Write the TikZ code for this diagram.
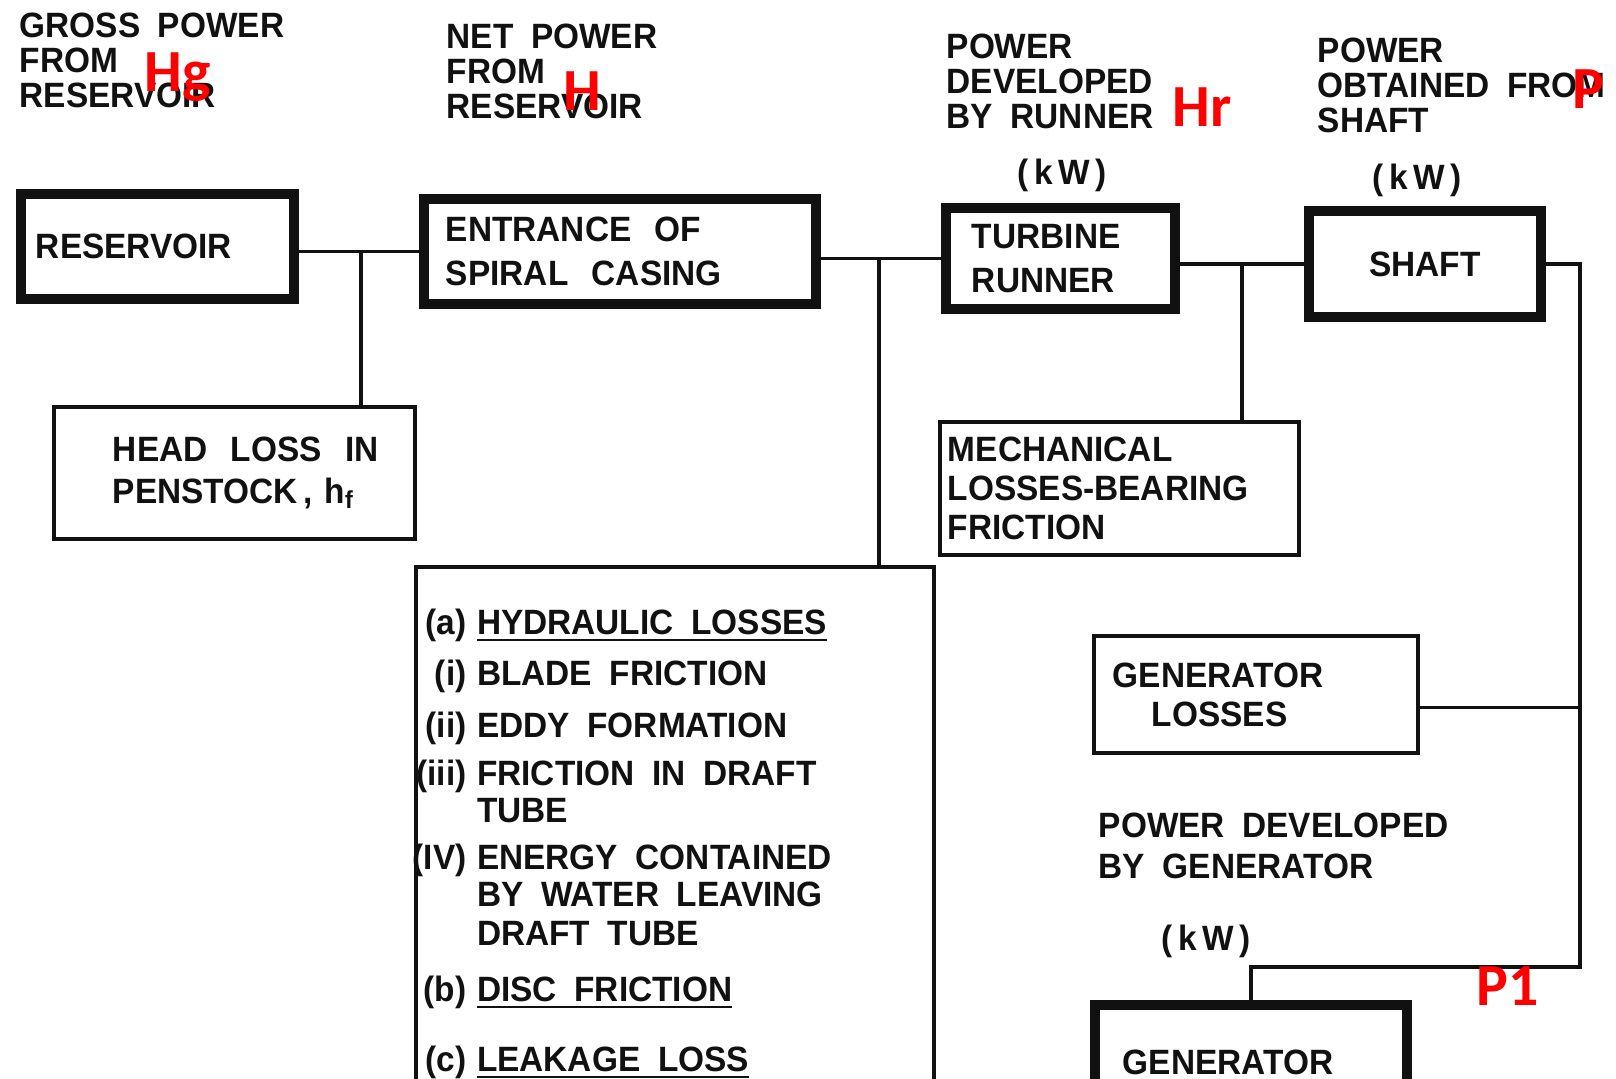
\documentclass[tikz,border=0pt]{standalone}
\usepackage{fontspec}
\setmainfont{Liberation Sans}[WordSpace=1.9, FakeStretch=0.95]
\newfontfamily\tagfont{Carlito}
\usepackage{tikz}
\usetikzlibrary{positioning, calc}
\definecolor{ink}{HTML}{111111}
\definecolor{tagred}{HTML}{FF0000}
\tikzset{
  heavy/.style ={draw=ink, line width=3pt, align=left, text=ink, inner ysep=0pt,
                 font=\bfseries\fontsize{10}{12.4}\selectfont},
  light/.style ={heavy, line width=1.1pt},
  title/.style ={anchor=north west, inner sep=0pt, align=left, text=ink,
                 font=\bfseries\fontsize{10}{10}\selectfont},
  unit/.style  ={inner sep=0pt, text=ink, font=\bfseries\fontsize{10}{10}\selectfont},
  tag/.style   ={anchor=base west, inner sep=0pt, text=tagred,
                 font=\tagfont\bfseries\fontsize{17}{17}\selectfont},
  wire/.style  ={draw=ink, line width=1pt}
}

\begin{document}
\begin{tikzpicture}[x=0.01cm, y=-0.01cm]
  \useasboundingbox (0,0) rectangle (1616,1078);

  % power levels
  \node[title] (grosst) at (19, 12)   {GROSS POWER\\FROM\\RESERVOIR};
  \node[title] (nett)   at (446, 23)  {NET POWER\\FROM\\RESERVOIR};
  \node[title] (runt)   at (946, 33)  {POWER\\DEVELOPED\\BY RUNNER};
  \node[title] (shat)   at (1317, 37) {POWER\\OBTAINED FROM\\SHAFT};
  \node[title, font=\bfseries\fontsize{10}{11.7}\selectfont] (gent) at (1098, 812)
    {POWER DEVELOPED\\BY GENERATOR};
  \node[unit] (kwrun) at (1062, 175) {(\,k\,W\,)};
  \node[unit] (kwsha) at (1417, 180) {(\,k\,W\,)};
  \node[unit] (kwgen) at (1206, 941) {(\,k\,W\,)};

  % main chain
  \node[heavy, minimum width=2.73cm, minimum height=1.05cm, text width=2.43cm,
        inner xsep=0.15cm] (res) at (157.5, 246.5) {RESERVOIR};
  \node[heavy, minimum width=3.92cm, minimum height=1.05cm, text width=3.48cm,
        inner xsep=0.22cm] (ent) at (620, 251.5) {ENTRANCE~~OF\\SPIRAL~~CASING};
  \node[heavy, minimum width=2.29cm, minimum height=1.01cm, text width=1.77cm,
        inner xsep=0.26cm] (tur) at (1060.5, 258.5) {TURBINE\\RUNNER};
  \node[heavy, align=center, minimum width=2.32cm, minimum height=1.06cm]
        (sha) at (1425, 264) {SHAFT};
  \node[heavy, minimum width=3.12cm, minimum height=1.15cm, text width=2.56cm,
        inner xsep=0.28cm] (gen) at (1251, 1062.5) {GENERATOR};

  % losses
  \node[light, minimum width=3.61cm, minimum height=1.32cm, text width=3.31cm,
        inner xsep=0.15cm, font=\bfseries\fontsize{10}{11.8}\selectfont] (pen) at (234.5, 473)
    {\hspace*{0.44cm}HEAD~~LOSS~~IN\\\hspace*{0.44cm}PENSTOCK\,,~h\textsubscript{f}};
  \node[light, minimum width=3.59cm, minimum height=1.33cm, text width=3.43cm,
        inner xsep=0.08cm, font=\bfseries\fontsize{10}{11}\selectfont] (mech) at (1119.5, 488.5)
    {MECHANICAL\\LOSSES-BEARING\\FRICTION};
  \node[light, minimum width=3.24cm, minimum height=1.17cm, text width=2.86cm,
        inner xsep=0.19cm, font=\bfseries\fontsize{10}{11.1}\selectfont] (glos) at (1256, 694.5)
    {GENERATOR\\\hspace*{0.39cm}LOSSES};
  \node[light, minimum width=5.18cm, minimum height=5.63cm] (hyd) at (675, 848.5) {};
  \node[anchor=north west, inner sep=0pt, text=ink,
        font=\bfseries\fontsize{10}{10.5}\selectfont] (hydl) at (412, 608) {%
    \begin{tabular}{@{}r@{\hspace{3pt}}l@{}}
      (a)   & \underline{HYDRAULIC LOSSES}\\[4pt]
      (i)   & BLADE FRICTION\\[4.3pt]
      (ii)  & EDDY FORMATION\\[3.2pt]
      (iii) & FRICTION IN DRAFT\\
            & TUBE\\[2.9pt]
      (IV)  & ENERGY CONTAINED\\
            & BY WATER LEAVING\\[0.6pt]
            & DRAFT TUBE\\[5.4pt]
      (b)   & \underline{DISC FRICTION}\\[9.4pt]
      (c)   & \underline{LEAKAGE LOSS}
    \end{tabular}};

  % connections
  \coordinate (jpen)  at (361, 251.5);
  \coordinate (jhyd)  at (879, 258.5);
  \coordinate (jmech) at (1242, 264);
  \coordinate (turn)  at (1580, 967);
  \draw[wire] (res.east |- ent.west) -- (ent.west);
  \draw[wire] (jpen) -- (jpen |- pen.north);
  \draw[wire] (ent.east |- tur.west) -- (tur.west);
  \draw[wire] (jhyd) -- (jhyd |- hyd.north);
  \draw[wire] (tur.east |- sha.west) -- (sha.west);
  \draw[wire] (jmech) -- (jmech |- mech.north);
  \draw[wire] (sha.east) -| (turn) -| (gen.north);
  \draw[wire] ([yshift=-0.13cm]glos.east) -- ([yshift=-0.13cm]glos.east -| turn);

  % head symbols
  \node[tag] (hg) at (144, 91)   {Hg};
  \node[tag] (h)  at (563, 110)  {H};
  \node[tag] (hr) at (1172, 126) {Hr};
  \node[tag] (p)  at (1572, 108) {P};
  \node[tag] (p1) at (1476, 1005) {P1};
\end{tikzpicture}
\end{document}
